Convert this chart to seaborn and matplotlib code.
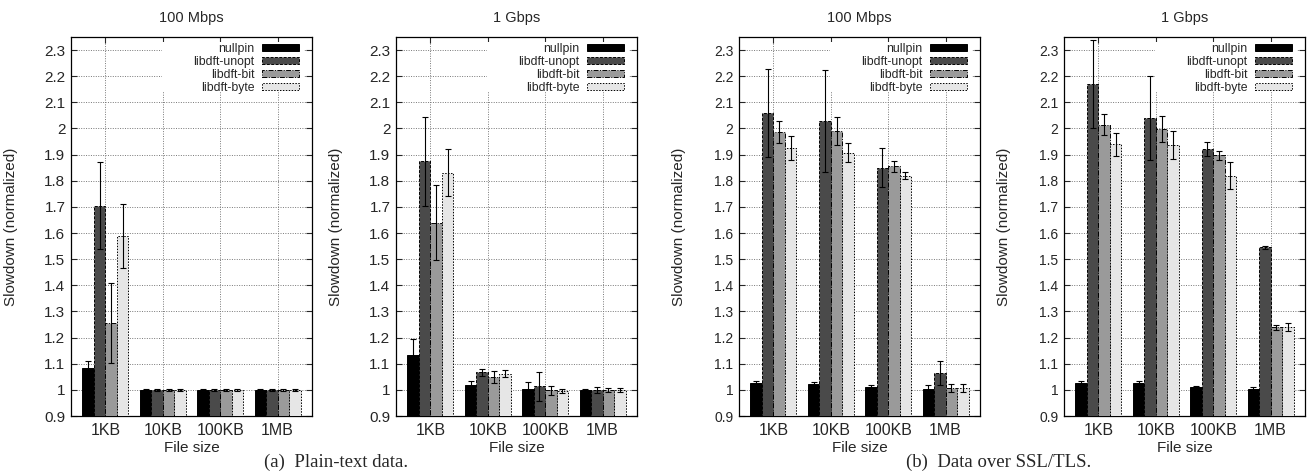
import matplotlib
matplotlib.use('Agg')
import pandas as pd
import matplotlib.pyplot as plt
import seaborn as sns
import numpy as np
from matplotlib.patches import Rectangle

sizes = ['1KB', '10KB', '100KB', '1MB']
tools = ['nullpin', 'libdft-unopt', 'libdft-bit', 'libdft-byte']
titles = ['100 Mbps', '1 Gbps', '100 Mbps', '1 Gbps']

# mean slowdown per tool (rows) and file size (columns)
plain_100m = [[1.085, 1.000, 1.000, 1.000],
              [1.705, 1.000, 1.000, 1.000],
              [1.255, 1.000, 1.000, 1.000],
              [1.590, 1.000, 1.000, 1.000]]
plain_100m_err = [[0.025, 0.003, 0.003, 0.003],
                  [0.165, 0.003, 0.003, 0.003],
                  [0.152, 0.003, 0.003, 0.003],
                  [0.122, 0.003, 0.003, 0.003]]

plain_1g = [[1.135, 1.017, 1.003, 0.998],
            [1.875, 1.067, 1.013, 1.000],
            [1.640, 1.050, 0.998, 0.998],
            [1.830, 1.062, 0.997, 0.998]]
plain_1g_err = [[0.060, 0.018, 0.027, 0.006],
                [0.170, 0.013, 0.055, 0.012],
                [0.143, 0.022, 0.016, 0.008],
                [0.090, 0.013, 0.008, 0.008]]

ssl_100m = [[1.025, 1.023, 1.010, 1.003],
            [2.060, 2.030, 1.850, 1.065],
            [1.988, 1.990, 1.855, 1.007],
            [1.925, 1.907, 1.820, 1.008]]
ssl_100m_err = [[0.007, 0.007, 0.010, 0.014],
                [0.168, 0.195, 0.075, 0.045],
                [0.042, 0.055, 0.022, 0.015],
                [0.045, 0.036, 0.015, 0.016]]

ssl_1g = [[1.027, 1.025, 1.010, 1.003],
          [2.170, 2.040, 1.920, 1.545],
          [2.015, 1.997, 1.897, 1.240],
          [1.940, 1.937, 1.820, 1.240]]
ssl_1g_err = [[0.005, 0.010, 0.005, 0.007],
              [0.168, 0.160, 0.027, 0.005],
              [0.040, 0.050, 0.018, 0.010],
              [0.044, 0.053, 0.053, 0.015]]

panels = [(plain_100m, plain_100m_err), (plain_1g, plain_1g_err),
          (ssl_100m, ssl_100m_err), (ssl_1g, ssl_1g_err)]

colors = ['#000000', '#4a4a4a', '#9a9a9a', '#e6e6e6']
edge_styles = ['-', (0, (3, 1.5)), (0, (5, 1.5, 1, 1.5)), (0, (1.5, 1.5))]

sns.set_style('white')
plt.rcParams['font.family'] = ['Liberation Sans', 'DejaVu Sans']

fig = plt.figure(figsize=(13.09, 4.75), dpi=100)
lefts = [71, 396, 739, 1064]
tick_fs = [11, 11, 10, 10]

for i, (vals, errs) in enumerate(panels):
    ax = fig.add_axes([lefts[i] / 1309, 59 / 475, 241 / 1309, 379 / 475])
    rows = []
    for t, tool in enumerate(tools):
        for s, size in enumerate(sizes):
            rows.append({'size': size, 'tool': tool, 'val': vals[t][s], 'err': errs[t][s]})
    df = pd.DataFrame(rows)
    sns.barplot(data=df, x='size', y='val', hue='tool', order=sizes, hue_order=tools,
                palette=colors, errorbar=None, width=0.8, saturation=1,
                edgecolor='black', linewidth=0.7, ax=ax, zorder=3)
    bar_conts = list(ax.containers)
    for t, cont in enumerate(bar_conts):
        xs = []
        for p in cont.patches:
            p.set_linestyle(edge_styles[t])
            xs.append(p.get_x() + p.get_width() / 2)
        sub = df[df.tool == tools[t]]
        ax.errorbar(xs, sub['val'], yerr=sub['err'], fmt='none', ecolor='black',
                    elinewidth=0.8, capsize=2.2, capthick=0.8, zorder=4)
    ax.set_ylim(0.9, 2.35)
    ax.set_xlim(-0.6, 3.6)
    ax.set_yticks(np.arange(0.9, 2.31, 0.1))
    ax.set_yticklabels(['0.9', '1', '1.1', '1.2', '1.3', '1.4', '1.5', '1.6', '1.7',
                        '1.8', '1.9', '2', '2.1', '2.2', '2.3'])
    ax.grid(True, linestyle=(0, (1, 1.5)), color='#777777', linewidth=0.7, zorder=0)
    ax.set_axisbelow(True)
    for sp in ax.spines.values():
        sp.set_color('black')
        sp.set_linewidth(0.9)
    ax.tick_params(axis='both', direction='in', length=4, width=0.8,
                   labelsize=tick_fs[i], right=True, top=True, left=True, bottom=True)
    ax.tick_params(axis='y', pad=4)
    ax.tick_params(axis='x', labelsize=11.5, pad=5)
    ax.set_xlabel('File size', fontsize=11, labelpad=2)
    ax.set_ylabel('Slowdown (normalized)', fontsize=11)
    ax.yaxis.set_label_coords(-0.22, 0.5)
    ax.set_title(titles[i], fontsize=10.5, pad=11)

    # white key box behind the legend, as gnuplot draws it
    ax.add_patch(Rectangle((0.379, 0.855), 0.588, 0.132, transform=ax.transAxes,
                           facecolor='white', edgecolor='none', zorder=2))
    leg = ax.legend(loc='upper right', bbox_to_anchor=(0.945, 0.985), markerfirst=False,
                    fontsize=8.8, frameon=False, handlelength=3.0, handleheight=0.5,
                    labelspacing=0.08, borderaxespad=0, borderpad=0, handletextpad=0.6)
    leg.set_zorder(5)
    for t, h in enumerate(leg.legend_handles):
        h.set_linestyle(edge_styles[t])
    for txt in leg.get_texts():
        txt.set_ha('right')

fig.text(336 / 1309, 1 - 462 / 475, '(a)  Plain-text data.', ha='center', va='center',
         fontsize=13.5, family=['Liberation Serif', 'DejaVu Serif'])
fig.text(999 / 1309, 1 - 462 / 475, '(b)  Data over SSL/TLS.', ha='center', va='center',
         fontsize=13.5, family=['Liberation Serif', 'DejaVu Serif'])

fig.savefig('out.png', dpi=100)
